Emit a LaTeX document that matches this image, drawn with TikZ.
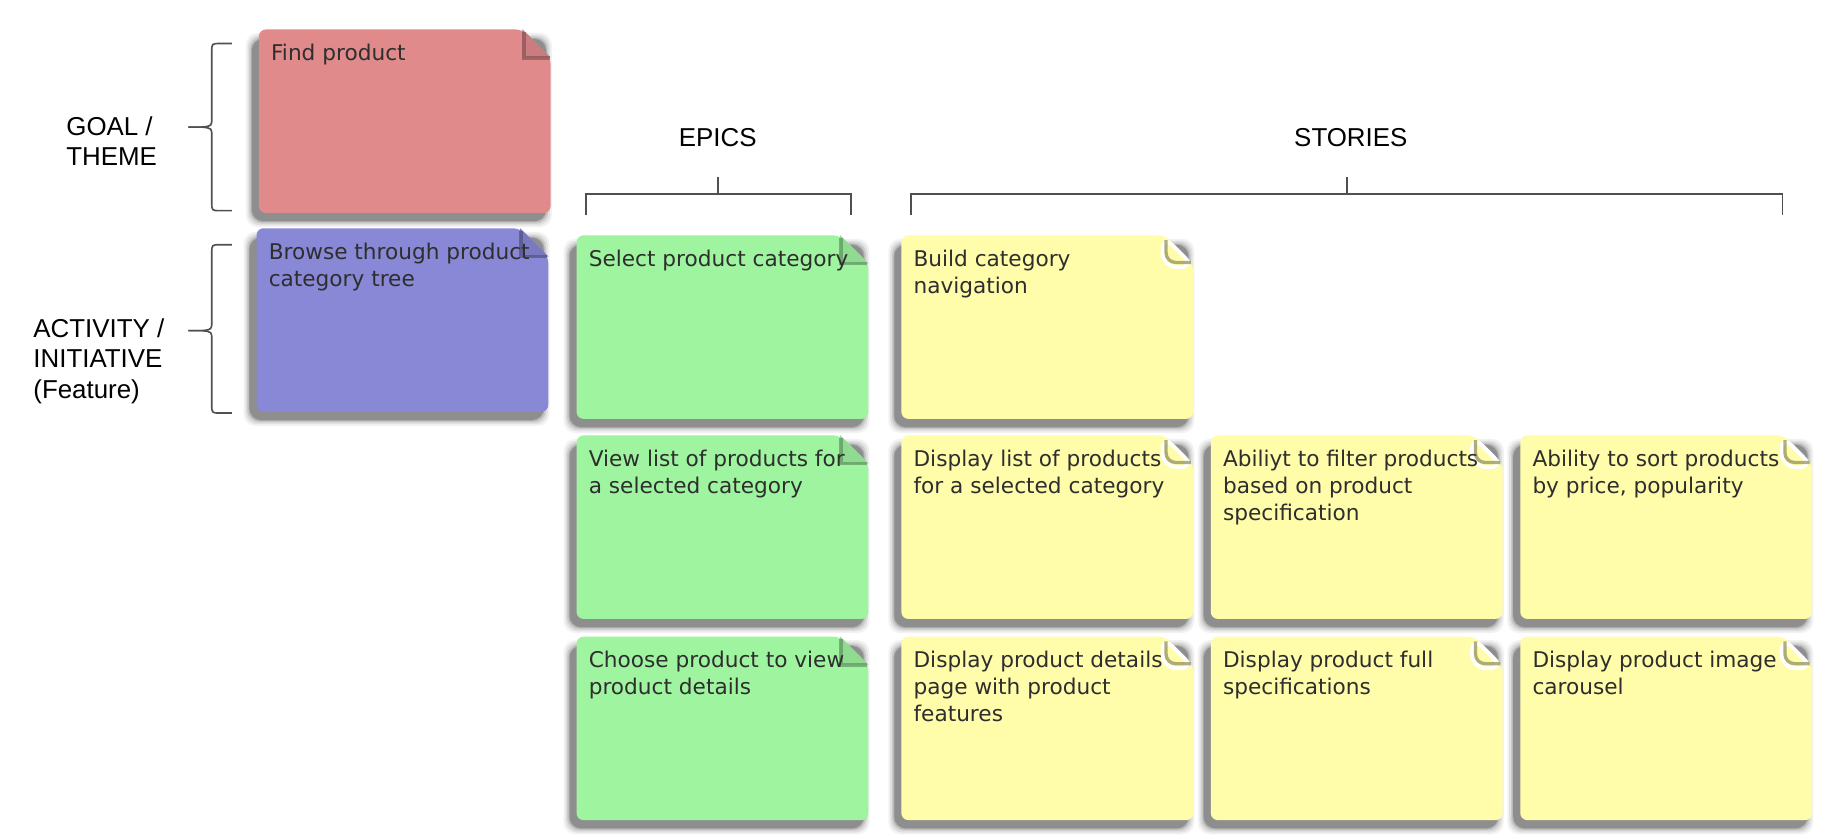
\documentclass[tikz,border=0pt]{standalone}
\usepackage{fontspec}
\setmainfont{Liberation Sans}
\newfontfamily\notefont{DejaVu Sans}
\definecolor{pinknote}{HTML}{E08A8C}
\definecolor{bluenote}{HTML}{8888D6}
\definecolor{greennote}{HTML}{9FF4A0}
\definecolor{yellownote}{HTML}{FFFCAA}
\definecolor{notetext}{HTML}{2E2E2E}
\definecolor{linegray}{HTML}{505050}
\tikzset{
  notetextstyle/.style={anchor=north west, inner sep=0pt, align=left, text=notetext,
    font=\notefont\fontsize{9.2}{11.5}\selectfont},
  header/.style={font=\fontsize{11}{13}\selectfont, inner sep=0pt},
  sidelabel/.style={font=\fontsize{11}{13}\selectfont, align=left, anchor=west, inner sep=0pt},
  bracketline/.style={draw=linegray, line width=0.7pt},
}
\newcommand{\notebody}[3]{%
  \begin{scope}[shift={(#1,#2)}]
    \foreach \d/\op in {5/0.05,3.5/0.07,2/0.1,0.8/0.13,0/0.18}{
      \fill[black, opacity=\op, rounded corners=5] (-6-\d,8-\d) rectangle ++(250+2*\d,155+2*\d);
    }
    \fill[#3, rounded corners=3] (0,0) -- (224,0) -- (248,24) -- (248,156) -- (0,156) -- cycle;
  \end{scope}}
\newcommand{\dogear}[3]{%
  \begin{scope}[shift={(#1,#2)}]
    \fill[#3!90!black] (224,0) -- (224,24) -- (248,24) -- cycle;
    \draw[#3!55!black, opacity=0.6, line width=1.6] (225,2) -- (225,24) -- (247,24);
  \end{scope}}
\newcommand{\pagecurl}[2]{%
  \begin{scope}[shift={(#1,#2)}]
    \filldraw[fill=yellownote, draw=white, line width=1.6, rounded corners=6]
      (222,0) -- (222,27) -- (249,27) -- cycle;
    \draw[yellownote!55!black, opacity=0.7, line width=1.4, rounded corners=4] (225,4) -- (225,23) -- (246,23);
  \end{scope}}
\begin{document}
\begin{tikzpicture}[x=0.5pt,y=-0.5pt]
\useasboundingbox[fill=white] (0,0) rectangle (1568,713);

% side labels
\node[sidelabel] (goal) at (56,120) {GOAL /\\THEME};
\node[sidelabel] (activity) at (28,307) {ACTIVITY /\\INITIATIVE\\(Feature)};

% braces
\coordinate (gtip) at (160,108);
\coordinate (gtop) at (197,37);
\coordinate (gbot) at (197,179);
\draw[bracketline] (gtop) -- (187,37) .. controls (180,37) .. (180,44) -- (180,100)
  .. controls (180,107) .. (172,108) -- (gtip);
\draw[bracketline] (gtip) -- (172,108) .. controls (180,109) .. (180,116) -- (180,172)
  .. controls (180,179) .. (187,179) -- (gbot);
\coordinate (atip) at (160,281);
\coordinate (atop) at (197,208);
\coordinate (abot) at (197,351);
\draw[bracketline] (atop) -- (187,208) .. controls (180,208) .. (180,215) -- (180,273)
  .. controls (180,280) .. (172,281) -- (atip);
\draw[bracketline] (atip) -- (172,281) .. controls (180,282) .. (180,289) -- (180,344)
  .. controls (180,351) .. (187,351) -- (abot);

% headers
\node[header] (epics) at (610,117) {EPICS};
\node[header] (stories) at (1148,117) {STORIES};
\coordinate (eL) at (498,183);
\coordinate (eR) at (723,183);
\coordinate (eT) at (610,150);
\draw[bracketline] (eL) -- (498,165) -- (723,165) -- (eR);
\draw[bracketline] (610,165) -- (eT);
\coordinate (sL) at (774,183);
\coordinate (sR) at (1515,183);
\coordinate (sT) at (1145,150);
\draw[bracketline] (sL) -- (774,165) -- (1515,165) -- (sR);
\draw[bracketline] (1145,165) -- (sT);

% goal / activity notes
\notebody{220}{25}{pinknote}\dogear{220}{25}{pinknote}
\node[notetextstyle] (find) at (230,37) {Find product};
\notebody{218}{194}{bluenote}\dogear{218}{194}{bluenote}
\node[notetextstyle] (browse) at (228,206) {Browse through product\\category tree};

% epics
\notebody{490}{200}{greennote}\dogear{490}{200}{greennote}
\node[notetextstyle] (epic1) at (500,212) {Select product category};
\notebody{490}{370}{greennote}\dogear{490}{370}{greennote}
\node[notetextstyle] (epic2) at (500,382) {View list of products for\\a selected category};
\notebody{490}{541}{greennote}\dogear{490}{541}{greennote}
\node[notetextstyle] (epic3) at (500,553) {Choose product to view\\product details};

% stories
\notebody{766}{200}{yellownote}\pagecurl{766}{200}
\node[notetextstyle] (s11) at (776,212) {Build category\\navigation};
\notebody{766}{370}{yellownote}\pagecurl{766}{370}
\node[notetextstyle] (s21) at (776,382) {Display list of products\\for a selected category};
\notebody{1029}{370}{yellownote}\pagecurl{1029}{370}
\node[notetextstyle] (s22) at (1039,382) {Abiliyt to filter products\\based on product\\specification};
\notebody{1292}{370}{yellownote}\pagecurl{1292}{370}
\node[notetextstyle] (s23) at (1302,382) {Ability to sort products\\by price, popularity};
\notebody{766}{541}{yellownote}\pagecurl{766}{541}
\node[notetextstyle] (s31) at (776,553) {Display product details\\page with product\\features};
\notebody{1029}{541}{yellownote}\pagecurl{1029}{541}
\node[notetextstyle] (s32) at (1039,553) {Display product full\\specifications};
\notebody{1292}{541}{yellownote}\pagecurl{1292}{541}
\node[notetextstyle] (s33) at (1302,553) {Display product image\\carousel};
\end{tikzpicture}
\end{document}
